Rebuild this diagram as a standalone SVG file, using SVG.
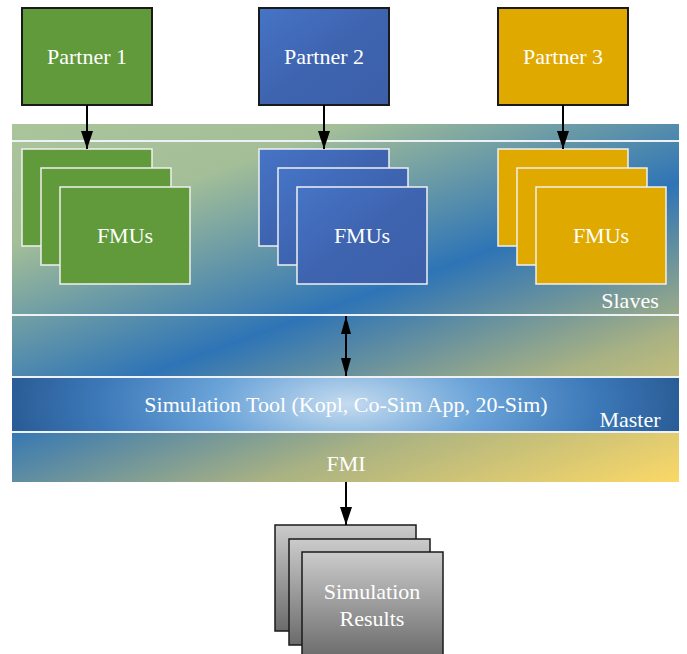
<svg xmlns="http://www.w3.org/2000/svg" width="687" height="654" viewBox="0 0 687 654" font-family="Liberation Serif, serif">
<defs>
<linearGradient id="bg" gradientUnits="userSpaceOnUse" x1="12" y1="124" x2="203" y2="653">
<stop offset="0" stop-color="#aac49c"/>
<stop offset="0.2" stop-color="#a4bf98"/>
<stop offset="0.5" stop-color="#2e74b6"/>
<stop offset="0.75" stop-color="#a9b283"/>
<stop offset="1" stop-color="#fbd867"/>
</linearGradient>
<radialGradient id="master" gradientUnits="userSpaceOnUse" cx="347" cy="404" r="335" gradientTransform="translate(0 404) scale(1 0.4) translate(0 -404)">
<stop offset="0" stop-color="#c4dbef"/>
<stop offset="0.4" stop-color="#6aa3d8"/>
<stop offset="0.75" stop-color="#3c78b8"/>
<stop offset="1" stop-color="#2a5d97"/>
</radialGradient>
<linearGradient id="blue" x1="0" y1="0" x2="1" y2="1">
<stop offset="0" stop-color="#4674c6"/>
<stop offset="0.5" stop-color="#3e64b0"/>
<stop offset="1" stop-color="#3d5fa8"/>
</linearGradient>
<linearGradient id="gray" x1="0" y1="0" x2="0" y2="1">
<stop offset="0" stop-color="#cbcbcb"/>
<stop offset="1" stop-color="#6b6b6b"/>
</linearGradient>
<marker id="ah" viewBox="0 0 10 10" refX="10" refY="5" markerWidth="9" markerHeight="6" preserveAspectRatio="none" orient="auto-start-reverse" markerUnits="strokeWidth">
<path d="M0,0 L10,5 L0,10 Z" fill="#000"/>
</marker>
<marker id="ah2" viewBox="0 0 10 10" refX="10" refY="5" markerWidth="9" markerHeight="5" preserveAspectRatio="none" orient="auto-start-reverse" markerUnits="strokeWidth">
<path d="M0,0 L10,5 L0,10 Z" fill="#000"/>
</marker>
</defs>
<style>
.t{font-family:'Liberation Serif','Times New Roman',serif;font-size:22px;fill:#fff;text-anchor:middle}
.p{stroke:#1a1a1a;stroke-width:2}
.f{stroke:#f0f0f0;stroke-width:1.5}
.g{fill:#609a3b}
.y{fill:#dfa900}
.b{fill:url(#blue)}
.s{fill:url(#gray);stroke:#1a1a1a;stroke-width:1.5}
.c{stroke:#000;stroke-width:2;fill:none;marker-end:url(#ah)}
.d{stroke:#000;stroke-width:2;fill:none;marker-end:url(#ah2);marker-start:url(#ah2)}
.w{stroke:#eef2f6;stroke-width:2}
</style>
<g id="framework">
<rect x="12" y="124" width="667" height="358" fill="url(#bg)"/>
<rect x="12" y="377" width="667" height="55" fill="url(#master)"/>
<line class="w" x1="12" y1="141" x2="679" y2="141"/>
<line class="w" x1="12" y1="315" x2="679" y2="315"/>
<line class="w" x1="12" y1="377" x2="679" y2="377"/>
<line class="w" x1="12" y1="432" x2="679" y2="432"/>
<text class="t" x="630" y="308">Slaves</text>
<text class="t" x="630" y="427">Master</text>
<text class="t" x="346" y="412">Simulation Tool (Kopl, Co-Sim App, 20-Sim)</text>
<text class="t" x="346" y="471">FMI</text>
</g>
<g id="partner1"><rect class="g p" x="22" y="8" width="130" height="97"/><text class="t" x="87" y="64">Partner 1</text></g>
<g id="partner2"><rect class="b p" x="259" y="8" width="130" height="97"/><text class="t" x="324" y="64">Partner 2</text></g>
<g id="partner3"><rect class="y p" x="498" y="8" width="130" height="97"/><text class="t" x="563" y="64">Partner 3</text></g>
<g id="fmus1">
<rect class="g f" x="22" y="149" width="130" height="97"/>
<rect class="g f" x="41" y="168" width="130" height="97"/>
<rect class="g f" x="60" y="187" width="130" height="97"/>
<text class="t" x="125" y="243">FMUs</text>
</g>
<g id="fmus2">
<rect class="b f" x="259" y="149" width="130" height="97"/>
<rect class="b f" x="278" y="168" width="130" height="97"/>
<rect class="b f" x="297" y="187" width="130" height="97"/>
<text class="t" x="362" y="243">FMUs</text>
</g>
<g id="fmus3">
<rect class="y f" x="498" y="149" width="130" height="97"/>
<rect class="y f" x="517" y="168" width="130" height="97"/>
<rect class="y f" x="536" y="187" width="130" height="97"/>
<text class="t" x="601" y="243">FMUs</text>
</g>
<g id="results">
<rect class="s" x="275" y="525" width="141" height="106"/>
<rect class="s" x="289" y="539" width="141" height="106"/>
<rect class="s" x="302" y="552" width="141" height="106"/>
<text class="t" x="372" y="599">Simulation</text>
<text class="t" x="372" y="626">Results</text>
</g>
<g id="connectors">
<line class="c" x1="87" y1="105" x2="87" y2="149"/>
<line class="c" x1="324" y1="105" x2="324" y2="149"/>
<line class="c" x1="563" y1="105" x2="563" y2="149"/>
<line class="d" x1="346" y1="316" x2="346" y2="376"/>
<line class="c" x1="346" y1="482" x2="346" y2="525"/>
</g>
</svg>
